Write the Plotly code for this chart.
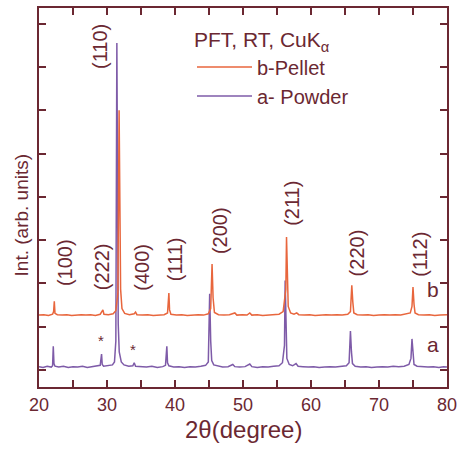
import plotly.graph_objects as go

# ---- data ----
powder_x = [20.0, 20.6, 21.2, 21.8, 22.0, 22.1, 22.2, 22.35, 22.9, 23.6, 24.3, 25.0, 25.7, 26.4, 27.1, 27.8,
            28.5, 29.0, 29.2, 29.3, 29.5, 30.2, 30.8, 31.1, 31.3, 31.45, 31.55, 31.65, 31.8, 32.1, 32.5,
            33.2, 33.8, 34.0, 34.2, 35.0, 35.8, 36.6, 37.4, 38.2, 38.6, 38.8, 38.9, 39.1, 39.8, 40.6,
            41.4, 42.2, 43.0, 43.8, 44.5, 44.9, 45.1, 45.25, 45.4, 45.7, 46.3, 47.0, 47.8, 48.5, 48.8,
            49.5, 50.3, 51.0, 51.3, 52.1, 52.9, 53.7, 54.5, 55.3, 55.8, 56.1, 56.2, 56.3, 56.45, 56.8,
            57.3, 57.8, 58.1, 58.8, 59.6, 60.4, 61.2, 62.0, 62.8, 63.6, 64.4, 65.2, 65.6, 65.8, 65.95,
            66.1, 66.5, 67.3, 68.1, 68.9, 69.7, 70.5, 71.3, 72.1, 72.9, 73.7, 74.4, 74.7, 74.85, 75.0,
            75.15, 75.6, 76.4, 77.2, 78.0, 78.8, 79.5, 80.0]
powder_y = [0.01, -0.01, 0.02, 0.00, 0.03, 0.48, 0.08, 0.02, 0.00, 0.02, -0.01, 0.01, 0.00, 0.02, -0.01, 0.01,
            0.02, 0.04, 0.30, 0.06, 0.02, 0.03, 0.05, 0.12, 0.60, 7.48, 2.50, 1.00, 0.35, 0.12, 0.05,
            0.02, 0.03, 0.10, 0.02, 0.01, 0.00, 0.02, -0.01, 0.01, 0.04, 0.48, 0.10, 0.03, 0.00, 0.01,
            -0.01, 0.01, 0.00, 0.02, 0.04, 0.12, 1.69, 0.60, 0.15, 0.05, 0.02, 0.00, 0.01, 0.06, 0.01,
            0.00, 0.01, 0.07, 0.01, -0.01, 0.01, 0.00, 0.02, 0.03, 0.10, 0.50, 2.00, 0.90, 0.20, 0.06,
            0.03, 0.08, 0.02, 0.01, 0.00, 0.01, -0.01, 0.00, 0.01, 0.00, 0.02, 0.03, 0.10, 0.83, 0.35,
            0.08, 0.02, 0.00, 0.01, -0.01, 0.00, 0.01, 0.00, 0.02, 0.01, 0.02, 0.06, 0.20, 0.65, 0.25,
            0.06, 0.02, 0.01, 0.00, 0.01, -0.01, 0.01, 0.00]

pellet_x = [20.0, 20.7, 21.4, 22.0, 22.15, 22.25, 22.35, 22.7, 23.4, 24.1, 24.8, 25.5, 26.2, 26.9, 27.6,
            28.3, 29.0, 29.4, 29.55, 30.2, 30.9, 31.3, 31.6, 31.78, 31.9, 32.0, 32.2, 32.6, 33.3, 34.0,
            34.2, 34.4, 35.2, 36.0, 36.8, 37.6, 38.4, 38.9, 39.1, 39.2, 39.4, 40.2, 41.0, 41.8, 42.6,
            43.4, 44.2, 44.9, 45.25, 45.45, 45.6, 45.8, 46.4, 47.2, 48.0, 48.8, 49.1, 49.9, 50.6, 51.0,
            51.3, 52.1, 52.9, 53.7, 54.5, 55.3, 55.9, 56.3, 56.4, 56.5, 56.65, 57.0, 57.5, 57.9, 58.2,
            59.0, 59.8, 60.6, 61.4, 62.2, 63.0, 63.8, 64.6, 65.4, 65.8, 66.0, 66.15, 66.3, 66.8, 67.6,
            68.4, 69.2, 70.0, 70.8, 71.6, 72.4, 73.2, 74.0, 74.6, 74.85, 75.0, 75.15, 75.3, 75.8, 76.6,
            77.4, 78.2, 79.0, 80.0]
pellet_y = [0.00, 0.01, -0.01, 0.02, 0.08, 0.32, 0.04, 0.01, 0.00, 0.01, -0.01, 0.00, 0.01, 0.00, 0.01,
            -0.01, 0.02, 0.12, 0.02, 0.01, 0.03, 0.10, 0.50, 4.73, 1.50, 0.60, 0.15, 0.04, 0.01, 0.03,
            0.07, 0.01, 0.00, 0.01, -0.01, 0.00, 0.01, 0.05, 0.51, 0.12, 0.02, 0.00, 0.01, -0.01, 0.00,
            0.01, 0.00, 0.03, 0.15, 1.18, 0.40, 0.06, 0.01, 0.00, 0.01, 0.05, 0.00, 0.01, 0.00, 0.05,
            0.00, 0.01, -0.01, 0.00, 0.01, 0.02, 0.08, 0.60, 1.80, 0.90, 0.20, 0.05, 0.02, 0.05, 0.01,
            0.00, 0.01, -0.01, 0.00, 0.01, 0.00, 0.01, 0.00, 0.02, 0.08, 0.69, 0.30, 0.05, 0.01, 0.00,
            0.01, -0.01, 0.00, 0.01, 0.00, 0.01, 0.00, 0.02, 0.05, 0.20, 0.65, 0.25, 0.05, 0.01, 0.00,
            0.01, -0.01, 0.00, 0.01]

powder_offset = 0.07
pellet_offset = 1.27

hkl_labels = ["(110)", "(100)", "(222)", "(400)", "(111)", "(200)", "(211)", "(220)", "(112)"]
hkl_x = [28.97, 23.8, 29.3, 35.1, 40.0, 46.6, 57.2, 66.8, 76.0]
hkl_y = [7.46, 2.49, 2.38, 2.38, 2.56, 3.23, 3.86, 2.70, 2.68]

star_x = [29.1, 33.8]
star_y = [0.69, 0.48]

x_tick_vals = [20, 30, 40, 50, 60, 70, 80]
x_tick_text = ["20", "30", "40", "50", "60", "70", "80"]

# ---- styling ----
AX = "#6b2832"
ORANGE = "#e8663d"
PURPLE = "#7e5ba8"
FONT = "Liberation Sans, Arial, Helvetica, sans-serif"

fig = go.Figure()
fig.add_trace(go.Scatter(
    x=powder_x, y=[v + powder_offset for v in powder_y], mode="lines",
    name="a- Powder", line=dict(color=PURPLE, width=1.5)))
fig.add_trace(go.Scatter(
    x=pellet_x, y=[v + pellet_offset for v in pellet_y], mode="lines",
    name="b-Pellet", line=dict(color=ORANGE, width=1.5)))

for t, x, y in zip(hkl_labels, hkl_x, hkl_y):
    fig.add_annotation(x=x, y=y, text=t, textangle=-90, showarrow=False,
                       xanchor="center", yanchor="middle",
                       font=dict(family=FONT, size=20, color=AX))
for x, y in zip(star_x, star_y):
    fig.add_annotation(x=x, y=y, text="*", showarrow=False,
                       font=dict(family=FONT, size=15, color=AX))
fig.add_annotation(x=77.9, y=1.85, text="b", showarrow=False,
                   font=dict(family=FONT, size=21, color=AX))
fig.add_annotation(x=77.9, y=0.58, text="a", showarrow=False,
                   font=dict(family=FONT, size=21, color=AX))

# axis titles as annotations (fixed positions)
fig.add_annotation(xref="paper", yref="paper", x=-0.042, y=0.455,
                   text="Int. (arb. units)", textangle=-90, showarrow=False,
                   xanchor="center", yanchor="middle",
                   font=dict(family=FONT, size=19, color=AX))
fig.add_annotation(xref="paper", yref="paper", x=0.5, y=-0.113,
                   text="2θ(degree)", showarrow=False,
                   xanchor="center", yanchor="middle",
                   font=dict(family=FONT, size=24, color=AX))

fig.update_xaxes(range=[20, 80], tickvals=x_tick_vals, ticktext=x_tick_text,
                 ticks="inside", ticklen=7, tickwidth=1.5, tickcolor=AX,
                 minor=dict(dtick=5, ticks="inside", ticklen=7, tickwidth=1.5, tickcolor=AX),
                 showline=True, linecolor=AX, linewidth=2, mirror="ticks",
                 showgrid=False, zeroline=False, automargin=False,
                 tickfont=dict(family=FONT, size=18, color=AX))
fig.update_yaxes(range=[-0.39, 8.36], tickvals=[0, 1, 2, 3, 4, 5, 6, 7, 8], showticklabels=False,
                 ticks="inside", ticklen=7, tickwidth=1.5, tickcolor=AX,
                 showline=True, linecolor=AX, linewidth=2, mirror="ticks",
                 showgrid=False, zeroline=False, automargin=False)

fig.update_layout(
    width=458, height=449,
    margin=dict(l=39, r=11, t=8, b=62, autoexpand=False),
    paper_bgcolor="white", plot_bgcolor="white",
    showlegend=True,
    legend=dict(x=0.375, y=0.968, xanchor="left", yanchor="top",
                traceorder="reversed", bgcolor="rgba(0,0,0,0)",
                itemwidth=55, tracegroupgap=0,
                title=dict(text="PFT, RT, CuK<sub>α</sub>", font=dict(family=FONT, size=21, color=AX)),
                font=dict(family=FONT, size=20, color=AX)),
)

fig.write_html("out.html", config={"displayModeBar": False},
               post_script="document.body.style.margin='0px';")
